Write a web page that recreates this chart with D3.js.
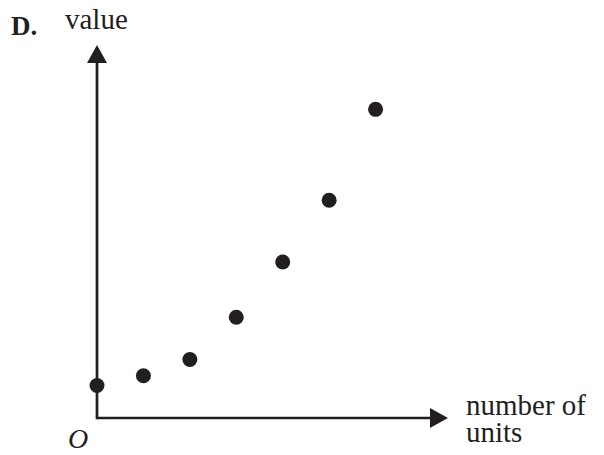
<!DOCTYPE html>
<html>
<head>
<meta charset="utf-8">
<script src="https://cdn.jsdelivr.net/npm/d3@7"></script>
<style>
  html, body { margin: 0; padding: 0; background: #fff; }
  svg { display: block; }
  text { font-family: "Liberation Serif", "DejaVu Serif", serif; fill: #231f20; }
</style>
</head>
<body>
<svg id="chart" width="604" height="455"></svg>
<script>
// Units produced and the value recorded for each
const units = [0, 1, 2, 3, 4, 5, 6];
const values = [10, 13, 18, 31, 48, 67, 95];

const ink = "#231f20";
const svg = d3.select("#chart");

// Scales end at the arrow tips
const x = d3.scaleLinear().domain([0, 7.56]).range([97, 448]);
const y = d3.scaleLinear().domain([0, 114.8]).range([418, 45]);

const head = 18;   // arrow head length
const half = 10;   // arrow head half-width

// Axes
svg.append("line")
  .attr("x1", x(0)).attr("y1", y(0))
  .attr("x2", x.range()[1] - head).attr("y2", y(0))
  .attr("stroke", ink).attr("stroke-width", 2.7);
svg.append("line")
  .attr("x1", x(0)).attr("y1", y(0) + 1.35)
  .attr("x2", x(0)).attr("y2", y.range()[1] + head)
  .attr("stroke", ink).attr("stroke-width", 2.7);

// Arrow heads
const xt = x.range()[1], yt = y.range()[1];
svg.append("path")
  .attr("d", `M${xt},${y(0)} L${xt - head},${y(0) - half} L${xt - head},${y(0) + half} Z`)
  .attr("fill", ink);
svg.append("path")
  .attr("d", `M${x(0)},${yt} L${x(0) - half},${yt + head} L${x(0) + half},${yt + head} Z`)
  .attr("fill", ink);

// Data points
svg.append("g").selectAll("circle")
  .data(units)
  .join("circle")
  .attr("cx", d => x(d))
  .attr("cy", (d, i) => y(values[i]))
  .attr("r", 7.5)
  .attr("fill", ink);

// Labels
svg.append("text").attr("x", 11).attr("y", 35)
  .attr("font-size", 27).attr("font-weight", "bold").text("D.");
svg.append("text").attr("x", 65).attr("y", 29)
  .attr("font-size", 29).text("value");
svg.append("text").attr("x", 68).attr("y", 448)
  .attr("font-size", 28).attr("font-style", "italic").text("O");
svg.append("text").attr("x", 466).attr("y", 415)
  .attr("font-size", 29).text("number of");
svg.append("text").attr("x", 466).attr("y", 442)
  .attr("font-size", 29).text("units");
</script>
</body>
</html>
